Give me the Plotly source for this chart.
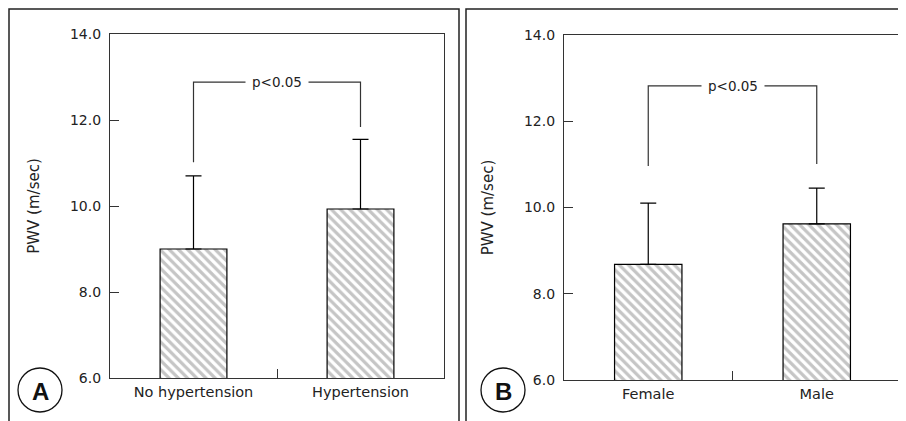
import plotly.graph_objects as go

# page body has an 8px default margin; figure is sized so that it fills the window
OFF = 8
W, H = 906 - OFF, 421 - OFF

# ---- data ----
cats_a = ["No hypertension", "Hypertension"]
means_a = [9.0, 9.93]
sd_a = [1.70, 1.62]
bracket_a = [11.02, 12.88, 12.88, 11.84]   # left foot, top, top, right foot

cats_b = ["Female", "Male"]
means_b = [8.68, 9.62]
sd_b = [1.42, 0.83]
bracket_b = [10.96, 12.82, 12.82, 11.01]

y_ticks = [6.0, 8.0, 10.0, 12.0, 14.0]
y_ticklabels = ["6.0", "8.0", "10.0", "12.0", "14.0"]
y_title = "PWV (m/sec)"
p_text = "p<0.05"
panel_letters = ["A", "B"]

FONT = "'DejaVu Sans', sans-serif"
TXT = "#222222"

def px_x(p):
    return (p - OFF) / W

def px_y(p):
    return 1 - (p - OFF) / H

fig = go.Figure()

panels = [
    dict(cats=cats_a, means=means_a, sd=sd_a, br=bracket_a,
         xa="x", ya="y", xd=[px_x(110), px_x(444)], yd=[px_y(378), px_y(34)]),
    dict(cats=cats_b, means=means_b, sd=sd_b, br=bracket_b,
         xa="x2", ya="y2", xd=[px_x(564), px_x(901)], yd=[px_y(380), px_y(35)]),
]

for i, p in enumerate(panels):
    xs = list(range(len(p["cats"])))
    fig.add_trace(go.Bar(
        x=xs, y=p["means"], base=0, width=0.4,
        xaxis=p["xa"], yaxis=p["ya"],
        marker=dict(color="white",
                    line=dict(color="black", width=1.2),
                    pattern=dict(shape="\\", fgcolor="#8c8c8c", bgcolor="white",
                                 size=6.5, solidity=0.5)),
        error_y=dict(type="data", symmetric=False, array=p["sd"],
                     arrayminus=[0] * len(p["sd"]), color="black",
                     thickness=1.2, width=8),
        showlegend=False, hoverinfo="skip",
    ))
    # significance bracket
    fig.add_trace(go.Scatter(
        x=[xs[0], xs[0], xs[1], xs[1]], y=p["br"], mode="lines",
        line=dict(color="#333333", width=1.2),
        xaxis=p["xa"], yaxis=p["ya"], showlegend=False, hoverinfo="skip",
    ))
    fig.add_annotation(
        x=0.5, y=p["br"][1], xref=p["xa"], yref=p["ya"], text=p_text,
        showarrow=False, bgcolor="white", borderpad=6,
        font=dict(family=FONT, size=13.5, color=TXT),
    )

common_x = dict(range=[-0.5, 1.5], tickvals=[0, 1], ticks="", showgrid=False,
                zeroline=False, showline=True, mirror=True, linecolor="#333333",
                linewidth=1.2, tickfont=dict(family=FONT, size=14.5, color=TXT),
                automargin=False, fixedrange=True)
common_y = dict(range=[6, 14], tickvals=y_ticks, ticktext=y_ticklabels,
                ticks="inside", ticklen=9, tickcolor="#333333", tickwidth=1.2,
                ticklabelstandoff=5,
                showgrid=False, zeroline=False, showline=True, mirror=True,
                linecolor="#333333", linewidth=1.2,
                tickfont=dict(family=FONT, size=14, color=TXT),
                title=dict(text=y_title, font=dict(family=FONT, size=15, color=TXT),
                           standoff=26),
                automargin=False, fixedrange=True)

fig.update_layout(
    width=W, height=H, margin=dict(l=0, r=0, t=0, b=0, autoexpand=False),
    paper_bgcolor="white", plot_bgcolor="white",
    xaxis=dict(domain=panels[0]["xd"], ticktext=cats_a, anchor="y", **common_x),
    yaxis=dict(domain=panels[0]["yd"], anchor="x", **common_y),
    xaxis2=dict(domain=panels[1]["xd"], ticktext=cats_b, anchor="y2", **common_x),
    yaxis2=dict(domain=panels[1]["yd"], anchor="x2", **common_y),
    # overlay axes giving the single inside tick between the categories
    xaxis3=dict(overlaying="x", anchor="y", range=[-0.5, 1.5], tickvals=[0.5],
                ticks="inside", ticklen=9, tickcolor="#333333", tickwidth=1.2,
                showticklabels=False, showgrid=False, zeroline=False, showline=False,
                automargin=False, fixedrange=True),
    xaxis4=dict(overlaying="x2", anchor="y2", range=[-0.5, 1.5], tickvals=[0.5],
                ticks="inside", ticklen=9, tickcolor="#333333", tickwidth=1.2,
                showticklabels=False, showgrid=False, zeroline=False, showline=False,
                automargin=False, fixedrange=True),
    showlegend=False,
)
# dummy traces to activate overlay axes
fig.add_trace(go.Scatter(x=[0.5], y=[None], xaxis="x3", yaxis="y", showlegend=False,
                         hoverinfo="skip"))
fig.add_trace(go.Scatter(x=[0.5], y=[None], xaxis="x4", yaxis="y2", showlegend=False,
                         hoverinfo="skip"))

# panel frames
frame = dict(color="#222222", width=1.5)
fig.add_shape(type="path", xref="paper", yref="paper",
              path=f"M {px_x(9)} 0 L {px_x(9)} {px_y(9)} L {px_x(459)} {px_y(9)} L {px_x(459)} 0",
              line=frame)
fig.add_shape(type="path", xref="paper", yref="paper",
              path=f"M {px_x(466)} 0 L {px_x(466)} {px_y(9)} L 1 {px_y(9)}",
              line=frame)

# panel letters
for cx, letter in zip([40, 503], panel_letters):
    r = 22
    fig.add_shape(type="circle", xref="paper", yref="paper",
                  x0=px_x(cx - r), x1=px_x(cx + r), y0=px_y(390 + r), y1=px_y(390 - r),
                  line=dict(color="#111111", width=1.3), fillcolor="white")
    fig.add_annotation(x=px_x(cx), y=px_y(391), xref="paper", yref="paper",
                       xanchor="center", yanchor="middle",
                       text=f"<b>{letter}</b>", showarrow=False,
                       font=dict(family="'Liberation Sans', Arial, sans-serif",
                                 size=24, color="#111111"))

fig.write_html("out.html")
